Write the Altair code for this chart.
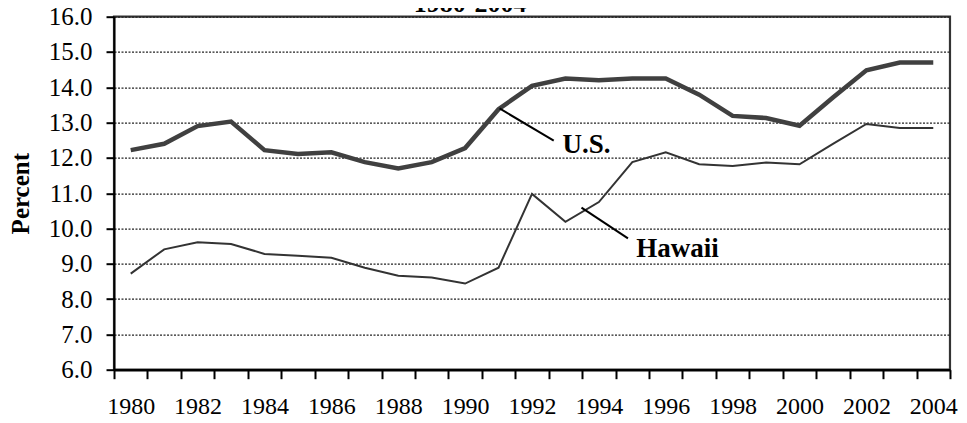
import altair as alt
import pandas as pd

years = list(range(1980, 2005))
us = [12.22, 12.40, 12.90, 13.03, 12.22, 12.11, 12.16, 11.88, 11.70, 11.88, 12.28,
      13.38, 14.04, 14.25, 14.20, 14.25, 14.25, 13.79, 13.19, 13.13, 12.91, 13.71,
      14.48, 14.70, 14.70]
hawaii = [8.72, 9.41, 9.61, 9.56, 9.28, 9.23, 9.17, 8.89, 8.66, 8.61, 8.44,
          8.89, 10.98, 10.19, 10.75, 11.88, 12.16, 11.82, 11.77, 11.87, 11.82, 12.40,
          12.96, 12.85, 12.85]

y_ticks = [6, 7, 8, 9, 10, 11, 12, 13, 14, 15, 16]
x_label_years = years[::2]
x_tick_bounds = [y - 0.5 for y in years] + [years[-1] + 0.5]

title_text = "1980-2004"
title_pos = [1990.15, 16.14]

label_names = ["U.S.", "Hawaii"]
label_x = [1992.91, 1995.12]
label_y = [12.15, 9.18]
leader_x1 = [1991.03, 1993.48]
leader_y1 = [13.40, 10.59]
leader_x2 = [1992.65, 1994.87]
leader_y2 = [12.49, 9.72]

FONT = "Liberation Serif"

df = pd.DataFrame({
    "year": years * 2,
    "value": us + hawaii,
    "series": ["U.S."] * len(years) + ["Hawaii"] * len(years),
})
ann = pd.DataFrame({"name": label_names, "x": label_x, "y": label_y,
                    "x1": leader_x1, "y1": leader_y1, "x2": leader_x2, "y2": leader_y2})
ttl = pd.DataFrame({"t": [title_text], "x": [title_pos[0]], "y": [title_pos[1]]})

x_scale = alt.Scale(domain=[x_tick_bounds[0], x_tick_bounds[-1]], nice=False, zero=False)
y_scale = alt.Scale(domain=[y_ticks[0], y_ticks[-1]], nice=False, zero=False)

x_axis = alt.Axis(
    values=x_tick_bounds + x_label_years,
    labelExpr="datum.value % 1 === 0 ? format(datum.value, 'd') : ''",
    tickOpacity={"condition": {"test": "datum.value % 1 === 0", "value": 0}, "value": 1},
    title=None, grid=False, labelOverlap=False, labelFontSize=24,
)
y_axis = alt.Axis(values=y_ticks, format=".1f", title="Percent", grid=True,
                  labelOverlap=False, labelFontSize=25)


def X(field):
    return alt.X(field, type="quantitative", scale=x_scale, axis=x_axis)


def Y(field):
    return alt.Y(field, type="quantitative", scale=y_scale, axis=y_axis)


base = alt.Chart(df)

hawaii_line = base.transform_filter(alt.datum.series == "Hawaii").mark_line(
    color="#333333", strokeWidth=2
).encode(x=X("year"), y=Y("value"))
us_line = base.transform_filter(alt.datum.series == "U.S.").mark_line(
    color="#404040", strokeWidth=4.5
).encode(x=X("year"), y=Y("value"))

leaders = alt.Chart(ann).mark_rule(color="black", strokeWidth=2).encode(
    x=X("x1"), y=Y("y1"), x2="x2:Q", y2="y2:Q"
)
labels = alt.Chart(ann).mark_text(
    align="left", baseline="alphabetic", font=FONT, fontSize=27, fontWeight="bold",
    color="black"
).encode(x=X("x"), y=Y("y"), text="name:N")

title = alt.Chart(ttl).mark_text(
    align="center", baseline="alphabetic", font=FONT, fontSize=26, fontWeight="bold",
    color="black"
).encode(x=X("x"), y=Y("y"), text="t:N")

chart = alt.layer(hawaii_line, us_line, leaders, labels, title).properties(
    width=836, height=353,
    autosize=alt.AutoSizeParams(type="none"),
    padding={"left": 106, "top": 8.7, "right": 9, "bottom": 52},
).configure_view(
    stroke="#333333", strokeWidth=2.2
).configure_axis(
    labelFont=FONT, labelFontSize=25, labelColor="black",
    titleFont=FONT, titleFontSize=25, titleFontWeight="bold", titleColor="black",
    tickColor="black", tickWidth=2, domainColor="black",
    labelOverlap=False, labelFlush=False, labelBound=False,
).configure_axisX(
    tickSize=9, domainWidth=2.5, labelPadding=16,
).configure_axisY(
    tickSize=8, domainWidth=2, labelPadding=14, titlePadding=15,
    gridColor="#222222", gridDash=[2, 1.5], gridWidth=1.3,
)

chart.save("out.html", embed_options={"renderer": "svg", "actions": False})
